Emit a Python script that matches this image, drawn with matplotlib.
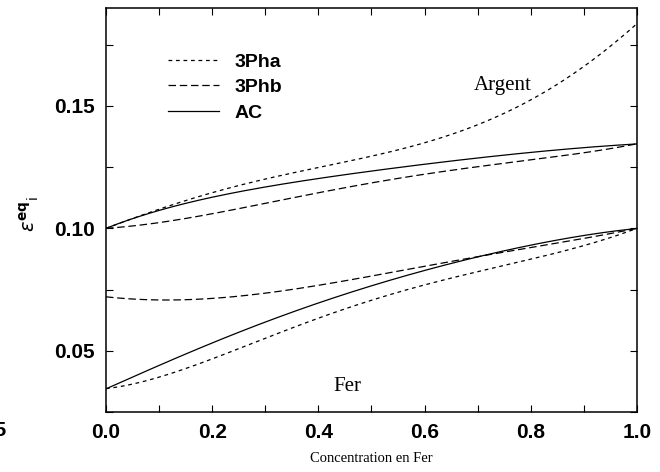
import numpy as np
import matplotlib
matplotlib.use("Agg")
import matplotlib.pyplot as plt
from matplotlib.ticker import MultipleLocator, FormatStrFormatter
from matplotlib.font_manager import FontProperties

# ── data ──
conc = [0.0, 0.1, 0.2, 0.3, 0.4, 0.5, 0.6, 0.7, 0.8, 0.9, 1.0]

argent_3pha = [0.100, 0.1080, 0.1145, 0.1200, 0.1250, 0.1295, 0.1350, 0.1425, 0.1520, 0.1665, 0.1835]
argent_3phb = [0.100, 0.1025, 0.1060, 0.1100, 0.1145, 0.1190, 0.1220, 0.1250, 0.1280, 0.1310, 0.1345]
argent_ac   = [0.100, 0.1075, 0.1125, 0.1170, 0.1205, 0.1233, 0.1262, 0.1288, 0.1310, 0.1330, 0.1345]

fer_3pha = [0.0345, 0.0395, 0.0465, 0.0550, 0.0635, 0.0708, 0.0768, 0.0822, 0.0875, 0.0930, 0.1000]
fer_3phb = [0.0720, 0.0710, 0.0712, 0.0735, 0.0768, 0.0807, 0.0845, 0.0883, 0.0922, 0.0960, 0.1000]
fer_ac   = [0.0345, 0.0440, 0.0532, 0.0618, 0.0697, 0.0763, 0.0828, 0.0885, 0.0932, 0.0970, 0.1000]

# smooth curve through the read points
def smooth(x, y, n=200):
    xs = np.linspace(x[0], x[-1], n)
    c = np.polyfit(x, y, 5)
    return xs, np.polyval(c, xs)

SHORT = (0, (3.0, 3.0))
LONG = (0, (6.0, 3.0))
LW = 0.9
tick_font = dict(family='Liberation Sans', weight='bold', size=15)

fig = plt.figure(figsize=(6.6, 4.72), dpi=100)
ax = fig.add_axes([0.1606, 0.127, 0.8044, 0.856])

xs, ys = smooth(conc, argent_3pha)
ax.plot(xs, ys, color='black', lw=LW, ls=SHORT, label='3Pha')
xs, ys = smooth(conc, argent_3phb)
ax.plot(xs, ys, color='black', lw=LW, ls=LONG, label='3Phb')
xs, ys = smooth(conc, argent_ac)
ax.plot(xs, ys, color='black', lw=LW, ls='-', label='AC')

xs, ys = smooth(conc, fer_3pha)
ax.plot(xs, ys, color='black', lw=LW, ls=SHORT)
xs, ys = smooth(conc, fer_3phb)
ax.plot(xs, ys, color='black', lw=LW, ls=LONG)
xs, ys = smooth(conc, fer_ac)
ax.plot(xs, ys, color='black', lw=LW, ls='-')

ax.set_xlim(0, 1.0)
ax.set_ylim(0.025, 0.19)
ax.xaxis.set_major_locator(MultipleLocator(0.2))
ax.xaxis.set_minor_locator(MultipleLocator(0.1))
ax.yaxis.set_major_locator(MultipleLocator(0.05))
ax.yaxis.set_minor_locator(MultipleLocator(0.025))
ax.tick_params(which='both', direction='in', top=True, right=True, width=0.8, length=5)
ax.tick_params(which='major', pad=8)
ax.xaxis.set_major_formatter(FormatStrFormatter('%.1f'))
ax.yaxis.set_major_formatter(FormatStrFormatter('%.2f'))
ax.set_yticks([0.05, 0.10, 0.15])
for lab in ax.get_xticklabels() + ax.get_yticklabels():
    lab.set_fontproperties(FontProperties(**tick_font))
for s in ax.spines.values():
    s.set_linewidth(1.1)

ax.set_xlabel('Concentration en Fer', family='Liberation Serif', fontsize=10.5, labelpad=7)
fig.text(0.045, 0.547, r'$\epsilon^{\mathbf{eq}}{}_{\mathrm{i}}$', rotation=90,
         fontsize=14, ha='center', va='center')

ax.text(0.748, 0.1585, 'Argent', family='Liberation Serif', fontsize=15,
        ha='center', va='center')
ax.text(0.454, 0.0355, 'Fer', family='Liberation Serif', fontsize=15,
        ha='center', va='center')

leg = ax.legend(loc='upper left', bbox_to_anchor=(0.117, 0.888), frameon=False,
                borderpad=0, borderaxespad=0,
                handlelength=2.6, handletextpad=0.8, labelspacing=0.4,
                prop=dict(family='Liberation Sans', weight='bold', size=14))

# clipped leftover label at the left edge of the original image
fig.text(0.009, 0.087, '0.025', ha='right', va='center', **tick_font)

fig.savefig('out.png', dpi=100)
